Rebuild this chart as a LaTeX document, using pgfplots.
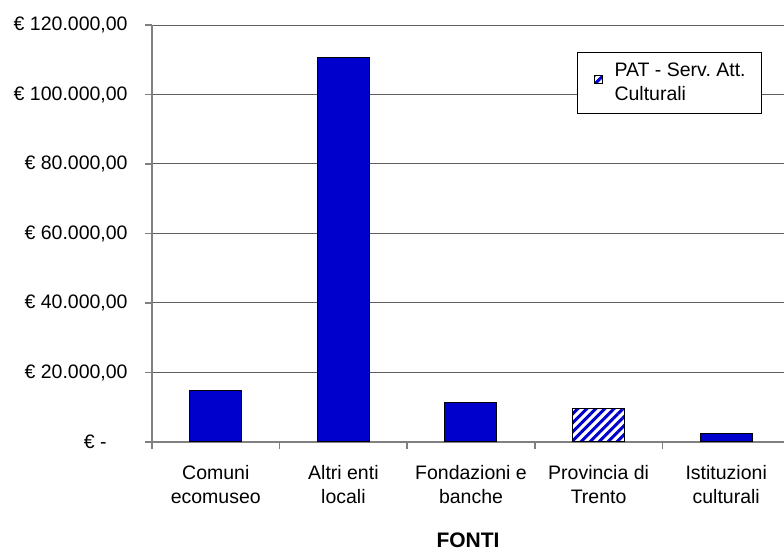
\documentclass[border=0pt]{standalone}
\usepackage{fontspec}
\setmainfont{Liberation Sans}
\usepackage{pgfplots}
\pgfplotsset{compat=1.18}
\usetikzlibrary{patterns.meta}
\definecolor{barblue}{RGB}{0,0,204}
\definecolor{gridgray}{RGB}{95,95,95}
\definecolor{axisgray}{RGB}{128,128,128}
\frenchspacing

\begin{document}
\begin{tikzpicture}[font=\fontsize{9.75}{12}\selectfont]
\begin{axis}[
  at={(0pt,0pt)}, anchor=south west,
  scale only axis,
  width=316pt, height=208.5pt,
  xmin=-0.5, xmax=4.453,
  ymin=0, ymax=120000,
  scaled y ticks=false,
  axis x line*=bottom, axis y line*=left,
  axis line style={axisgray, line width=0.75pt},
  tick align=outside,
  major tick length=3.5pt, minor tick length=3.5pt,
  tick style={axisgray, line width=0.75pt},
  xtick={0,1,2,3,4},
  xticklabels={{Comuni\\ecomuseo},{Altri enti\\locali},{Fondazioni e\\banche},{Provincia di\\Trento},{Istituzioni\\culturali}},
  major x tick style={draw=none},
  minor xtick={-0.5,0.5,1.5,2.5,3.5},
  xticklabel style={align=center, anchor=north, inner sep=0pt, yshift=-8pt},
  ytick={0,20000,40000,60000,80000,100000,120000},
  yticklabels={{€ -\kern10.5pt},{€ 20.000,00},{€ 40.000,00},{€ 60.000,00},{€ 80.000,00},{€ 100.000,00},{€ 120.000,00}},
  yticklabel style={anchor=east, inner sep=0pt, xshift=-8.5pt},
  ymajorgrids,
  major grid style={gridgray, line width=0.5pt},
  xlabel={FONTI},
  xlabel style={at={(axis description cs:0.5,0)}, anchor=north, yshift=-45pt, inner sep=0pt, font=\bfseries\fontsize{10.5}{12}\selectfont},
  legend style={at={(axis description cs:0.6725,0.935)}, anchor=north west,
    draw=black, line width=0.5pt, fill=white,
    inner xsep=8pt, inner ysep=5pt, column sep=6pt,
    nodes={inner sep=0pt}, cells={align=left, anchor=west}},
]
\addplot[ybar, bar width=26pt, bar shift=0pt, fill=barblue, draw=black, line width=0.5pt, forget plot]
  coordinates {(0,14900) (1,110700) (2,11450) (4,2420)};
\addplot[ybar, bar width=26pt, bar shift=0pt, draw=black, line width=0.5pt,
  pattern={Lines[angle=45,distance=3.2pt,line width=1.5pt]}, pattern color=barblue,
  legend image code/.code={\draw[##1] (0pt,-0.5pt) rectangle (4pt,3.5pt);}]
  coordinates {(3,9630)};
\addlegendentry{PAT - Serv. Att.\\Culturali}
\end{axis}
\pgfresetboundingbox
\useasboundingbox (-76pt,-55pt) rectangle (316pt,221pt);
\end{tikzpicture}
\end{document}
